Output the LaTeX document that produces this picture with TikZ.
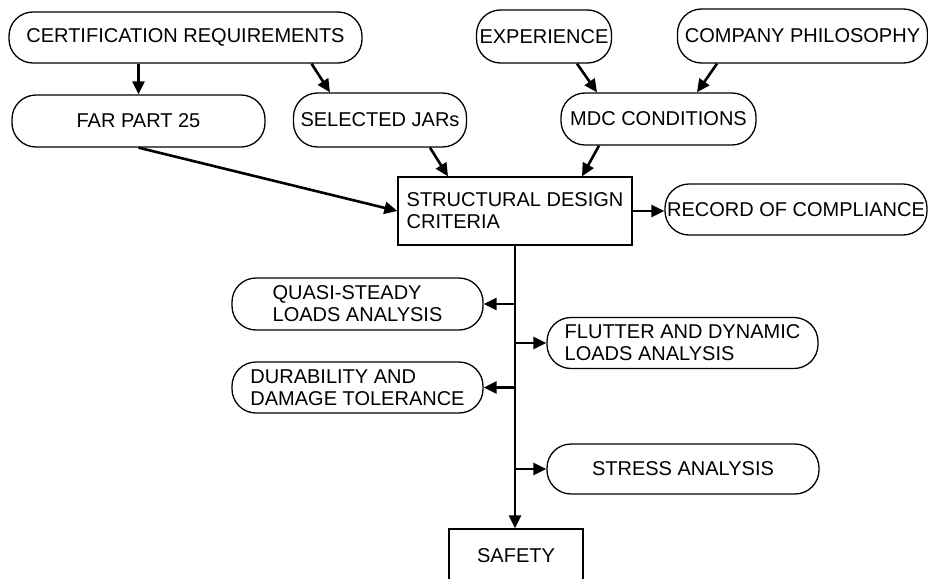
\documentclass[tikz,border=0pt]{standalone}
\usepackage{fontspec}
\setmainfont{Liberation Sans}
\usetikzlibrary{arrows.meta}

\begin{document}
\begin{tikzpicture}[x=1pt,y=-1pt,
  font=\fontsize{20}{22}\selectfont,
  rbox/.style={draw, line width=1.3pt, rounded corners=24pt, inner xsep=0pt, inner ysep=0pt, align=left},
  sbox/.style={draw, line width=1.3pt, inner xsep=1pt, inner ysep=0pt, align=left},
  arr/.style={line width=2.6pt, -{Triangle[length=13pt,width=12pt]}}]
\path[use as bounding box, clip] (0,0) rectangle (928,578);
% sources
\node[rbox, minimum width=353pt, minimum height=51pt] (cert) at (185.5,37.5) {CERTIFICATION REQUIREMENTS};
\node[rbox, minimum width=253pt, minimum height=52pt] (far) at (138.5,121) {FAR PART 25};
\node[rbox, minimum width=173pt, minimum height=54pt] (jars) at (380,120) {SELECTED JARs};
\node[rbox, minimum width=135pt, minimum height=53pt] (exp) at (544,36.5) {EXPERIENCE};
\node[rbox, minimum width=250pt, minimum height=54pt] (comp) at (802.5,36) {COMPANY PHILOSOPHY};
\node[rbox, minimum width=195pt, minimum height=52pt] (mdc) at (658.5,119) {MDC CONDITIONS};
% criteria
\node[sbox, minimum width=234pt, minimum height=68pt] (sdc) at (515,211) {STRUCTURAL DESIGN\\CRITERIA};
\node[rbox, minimum width=262pt, minimum height=51pt] (rec) at (796,209.5) {RECORD OF COMPLIANCE};
% analyses
\node[rbox, minimum width=251pt, minimum height=52pt] (quasi) at (357.5,304) {QUASI-STEADY\\LOADS ANALYSIS};
\node[rbox, minimum width=271pt, minimum height=51pt] (flut) at (682.5,343) {FLUTTER AND DYNAMIC\\LOADS ANALYSIS};
\node[rbox, minimum width=251pt, minimum height=51pt] (dura) at (357.5,387.5) {DURABILITY AND\\DAMAGE TOLERANCE};
\node[rbox, minimum width=272pt, minimum height=50pt] (stress) at (683,469) {STRESS ANALYSIS};
\node[sbox, minimum width=134pt, minimum height=54pt] (safety) at (516,556) {SAFETY};
% connectors
\draw[arr] (cert.south -| far.north) -- (far.north);
\draw[arr] ([xshift=126pt]cert.south) -- ([xshift=-50pt]jars.north);
\draw[arr] (far.south) -- (sdc.west);
\draw[arr] ([xshift=50pt]jars.south) -- ([xshift=-67pt]sdc.north);
\draw[arr] ([xshift=33pt]exp.south) -- ([xshift=-61.5pt]mdc.north);
\draw[arr] ([xshift=-85.5pt]comp.south) -- ([xshift=38.5pt]mdc.north);
\draw[arr] ([xshift=-59.5pt]mdc.south) -- ([xshift=67pt]sdc.north);
\draw[arr] (sdc.east) -- (sdc.east -| rec.west);
\draw[arr] (sdc.south) -- (sdc.south |- safety.north);
\draw[arr] (sdc.south |- quasi.east) -- (quasi.east);
\draw[arr] (sdc.south |- flut.west) -- (flut.west);
\draw[arr] (sdc.south |- dura.east) -- (dura.east);
\draw[arr] (sdc.south |- stress.west) -- (stress.west);
\end{tikzpicture}
\end{document}
